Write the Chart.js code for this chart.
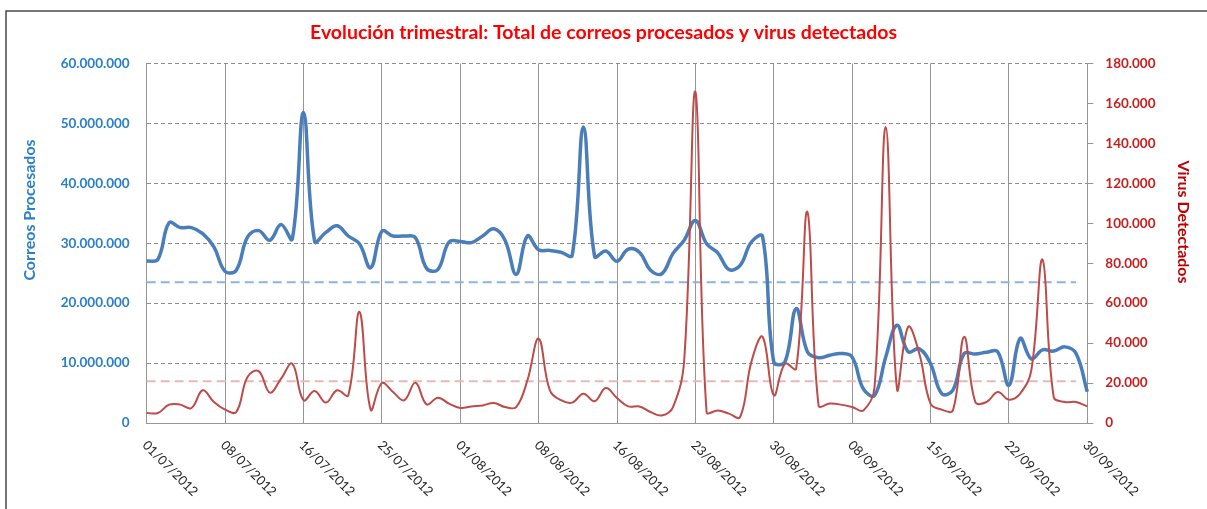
<!DOCTYPE html>
<html>
<head>
<meta charset="utf-8">
<script src="https://cdn.jsdelivr.net/npm/chart.js@4.4.1/dist/chart.umd.min.js"></script>
<style>
  html, body { margin: 0; padding: 0; background: #ffffff; }
  #wrap { width: 1207px; height: 509px; position: relative; }
</style>
</head>
<body>
<div id="wrap"><canvas id="c" width="1207" height="509"></canvas></div>
<script>
// ---------------- DATA ----------------
const chartTitle = "Evolución trimestral: Total de correos procesados y virus detectados";
const leftAxisTitle = "Correos Procesados";
const rightAxisTitle = "Virus Detectados";

const fechas = [
  "01/07/2012","02/07/2012","03/07/2012","04/07/2012","05/07/2012","06/07/2012","07/07/2012",
  "08/07/2012","09/07/2012","10/07/2012","11/07/2012","12/07/2012","13/07/2012","15/07/2012",
  "16/07/2012","17/07/2012","18/07/2012","19/07/2012","20/07/2012","23/07/2012","24/07/2012",
  "25/07/2012","26/07/2012","27/07/2012","28/07/2012","29/07/2012","30/07/2012","31/07/2012",
  "01/08/2012","02/08/2012","03/08/2012","04/08/2012","05/08/2012","06/08/2012","07/08/2012",
  "08/08/2012","09/08/2012","10/08/2012","11/08/2012","12/08/2012","13/08/2012","14/08/2012",
  "16/08/2012","17/08/2012","18/08/2012","19/08/2012","20/08/2012","21/08/2012","22/08/2012",
  "23/08/2012","24/08/2012","25/08/2012","26/08/2012","27/08/2012","28/08/2012","29/08/2012",
  "30/08/2012","31/08/2012","03/09/2012","04/09/2012","05/09/2012","06/09/2012","07/09/2012",
  "08/09/2012","09/09/2012","10/09/2012","11/09/2012","12/09/2012","13/09/2012","14/09/2012",
  "15/09/2012","16/09/2012","17/09/2012","18/09/2012","19/09/2012","20/09/2012","21/09/2012",
  "22/09/2012","23/09/2012","24/09/2012","25/09/2012","26/09/2012","27/09/2012","29/09/2012",
  "30/09/2012"
];

const correosProcesados = [
  27000000, 27300000, 33400000, 32600000, 32600000, 31600000, 29400000,
  25300000, 25500000, 31000000, 32100000, 30500000, 33100000, 30700000,
  51800000, 30300000, 31800000, 32900000, 31200000, 29900000, 25900000,
  32000000, 31200000, 31200000, 30900000, 25800000, 25600000, 30200000,
  30300000, 30100000, 31200000, 32400000, 30500000, 24800000, 31200000,
  28900000, 28800000, 28500000, 28000000, 49400000, 27800000, 28700000,
  27000000, 29000000, 28500000, 25500000, 24900000, 28300000, 30500000,
  33800000, 29900000, 28400000, 25600000, 26300000, 30200000, 31100000,
  10200000, 10200000, 19100000, 11900000, 10900000, 11300000, 11600000,
  11000000, 5700000, 4600000, 11000000, 16300000, 11900000, 12400000,
  9900000, 4900000, 5500000, 11600000, 11500000, 11800000, 11900000,
  6300000, 14100000, 10700000, 12200000, 12000000, 12700000, 11600000,
  5200000
];

const virusDetectados = [
  5000, 5000, 9200, 9200, 7500, 16400, 10500,
  6700, 5500, 23000, 26000, 15200, 22200, 29700,
  11400, 16000, 10200, 16400, 13900, 55600, 6700,
  20000, 15500, 11400, 20200, 9300, 12700, 9700,
  7500, 8300, 8800, 10000, 8000, 8000, 21400,
  42200, 16400, 11400, 10200, 14700, 10900, 17500,
  12500, 8300, 8300, 5500, 3800, 8000, 31400,
  165800, 5500, 6300, 4700, 3000, 30600, 43100,
  13900, 29700, 27200, 105700, 8800, 9700, 9200,
  8000, 6300, 18000, 148200, 17200, 48100, 34700,
  9700, 6700, 6300, 43100, 10500, 10500, 15500,
  11700, 14700, 26400, 81800, 13000, 10500, 10500,
  8300
];

// averages (reference dashed lines)
const mediaCorreos = 23500000;
const mediaVirus = 20900;

const leftTicks = { min: 0, max: 60000000, step: 10000000 };
const rightTicks = { min: 0, max: 180000, step: 20000 };
const labelEvery = 7;

// ---------------- HELPERS ----------------
function fmt(v) {
  return String(Math.round(v)).replace(/\B(?=(\d{3})+(?!\d))/g, '.');
}
const avgCorreosLine = fechas.map((d, i) => (i < fechas.length - 1 ? mediaCorreos : null));
const avgVirusLine = fechas.map((d, i) => (i < fechas.length - 1 ? mediaVirus : null));

const FONT = "Lato, 'Open Sans', 'DejaVu Sans', sans-serif";
const BLUE_TXT = '#2a7fc9';
const RED_TXT = '#c81e1e';
const GRID = '#8c8c8c';

const decorPlugin = {
  id: 'decor',
  beforeDraw(chart) {
    const ctx = chart.ctx;
    ctx.save();
    ctx.fillStyle = '#ffffff';
    ctx.fillRect(0, 0, chart.width, chart.height);
    ctx.restore();
  },
  afterDraw(chart) {
    const ctx = chart.ctx;
    const xs = chart.scales.x;
    // frame of the chart object
    ctx.save();
    ctx.strokeStyle = '#4a4a4a';
    ctx.lineWidth = 1.5;
    ctx.beginPath();
    ctx.moveTo(chart.width, 11);
    ctx.lineTo(6, 11);
    ctx.lineTo(6, chart.height);
    ctx.stroke();
    ctx.restore();

    // rotated category labels
    ctx.save();
    ctx.fillStyle = '#262626';
    ctx.font = "13px " + FONT;
    ctx.textAlign = 'left';
    ctx.textBaseline = 'middle';
    fechas.forEach((lab, i) => {
      if (i % labelEvery !== 0) return;
      const px = xs.getPixelForValue(i);
      ctx.save();
      ctx.translate(px - 2, xs.top + 20);
      ctx.rotate(Math.PI / 4);
      ctx.fillText(lab, 0, 0);
      ctx.restore();
    });
    ctx.restore();

    // axis titles
    ctx.save();
    ctx.font = "bold 16px " + FONT;
    ctx.textAlign = 'center';
    ctx.textBaseline = 'middle';
    ctx.fillStyle = BLUE_TXT;
    ctx.translate(30, 210);
    ctx.rotate(-Math.PI / 2);
    ctx.fillText(leftAxisTitle, 0, 0);
    ctx.restore();

    ctx.save();
    ctx.font = "bold 16px " + FONT;
    ctx.textAlign = 'center';
    ctx.textBaseline = 'middle';
    ctx.fillStyle = '#c00000';
    ctx.translate(1183, 222);
    ctx.rotate(Math.PI / 2);
    ctx.fillText(rightAxisTitle, 0, 0);
    ctx.restore();
  }
};

new Chart(document.getElementById('c'), {
  type: 'line',
  data: {
    labels: fechas,
    datasets: [
      {
        label: 'Virus detectados',
        data: virusDetectados,
        yAxisID: 'y1',
        borderColor: '#be4b48',
        borderWidth: 2,
        pointRadius: 0,
        tension: 0.4,
        fill: false,
        order: 0
      },
      {
        label: 'Correos procesados',
        data: correosProcesados,
        yAxisID: 'y',
        borderColor: '#4a7ebb',
        borderWidth: 3.5,
        pointRadius: 0,
        tension: 0.4,
        fill: false,
        order: 1
      },
      {
        label: 'Media correos',
        data: avgCorreosLine,
        yAxisID: 'y',
        borderColor: '#8db3e2',
        borderWidth: 2,
        borderDash: [9, 5],
        pointRadius: 0,
        tension: 0,
        fill: false,
        order: 2
      },
      {
        label: 'Media virus',
        data: avgVirusLine,
        yAxisID: 'y1',
        borderColor: '#e6b9b8',
        borderWidth: 2,
        borderDash: [9, 5],
        pointRadius: 0,
        tension: 0,
        fill: false,
        order: 2
      }
    ]
  },
  options: {
    responsive: false,
    animation: false,
    devicePixelRatio: 1,
    layout: { padding: 0 },
    plugins: {
      legend: { display: false },
      tooltip: { enabled: false },
      title: {
        display: true,
        text: chartTitle,
        color: '#ff0000',
        font: { family: FONT, size: 19.5, weight: 'bold' },
        padding: { top: 21.5, bottom: 18.5 }
      }
    },
    scales: {
      x: {
        type: 'category',
        ticks: { display: false, autoSkip: false },
        grid: {
          color: (c) => (c.index % labelEvery === 0 ? '#969696' : 'rgba(0,0,0,0)'),
          drawTicks: false,
          lineWidth: 1
        },
        border: { display: true, color: '#969696', width: 1 },
        afterFit: (s) => { s.height = 86; }
      },
      y: {
        position: 'left',
        min: leftTicks.min,
        max: leftTicks.max,
        ticks: {
          stepSize: leftTicks.step,
          color: BLUE_TXT,
          font: { family: FONT, size: 13.5, weight: 'bold' },
          padding: 17,
          callback: (v) => fmt(v)
        },
        grid: { color: GRID, drawTicks: false, lineWidth: 1 },
        border: { display: true, color: '#969696', dash: [4, 3] },
        afterFit: (s) => { s.width = 146.7; }
      },
      y1: {
        position: 'right',
        min: rightTicks.min,
        max: rightTicks.max,
        ticks: {
          stepSize: rightTicks.step,
          color: RED_TXT,
          font: { family: FONT, size: 13.5, weight: 'bold' },
          padding: 12,
          callback: (v) => fmt(v)
        },
        grid: { drawOnChartArea: false, drawTicks: true, tickLength: 6, color: '#969696' },
        border: { display: true, color: '#969696' },
        afterFit: (s) => { s.width = 1207 - 1087.3; }
      }
    }
  },
  plugins: [decorPlugin]
});
</script>
</body>
</html>
